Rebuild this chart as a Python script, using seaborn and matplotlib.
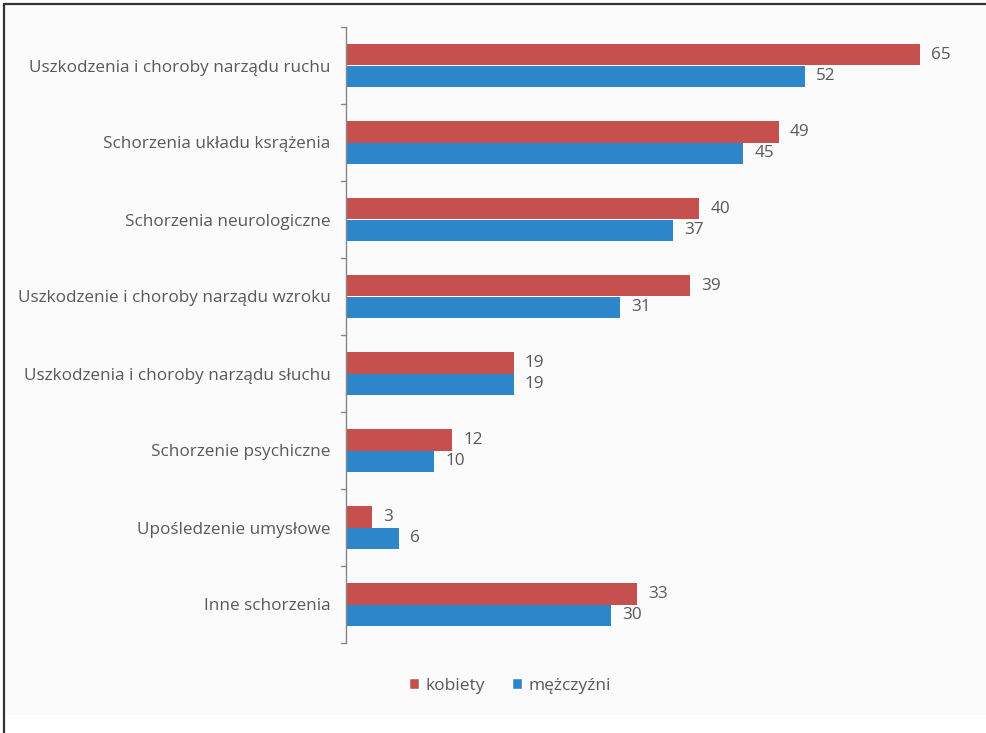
import matplotlib
matplotlib.use("Agg")
import matplotlib.pyplot as plt
import seaborn as sns
import pandas as pd
from matplotlib.lines import Line2D
from matplotlib.patches import Rectangle

categories = [
    "Uszkodzenia i choroby narządu ruchu",
    "Schorzenia układu ksrążenia",
    "Schorzenia neurologiczne",
    "Uszkodzenie i choroby narządu wzroku",
    "Uszkodzenia i choroby narządu słuchu",
    "Schorzenie psychiczne",
    "Upośledzenie umysłowe",
    "Inne schorzenia",
]
kobiety = [65, 49, 40, 39, 19, 12, 3, 33]
mezczyzni = [52, 45, 37, 31, 19, 10, 6, 30]
series_names = ["kobiety", "mężczyźni"]
colors = ["#C6504E", "#2C86C9"]

df = pd.DataFrame({
    "kat": categories * 2,
    "val": kobiety + mezczyzni,
    "ser": [series_names[0]] * len(categories) + [series_names[1]] * len(categories),
})

sns.set_style("white")
plt.rcParams["font.family"] = ["Open Sans", "DejaVu Sans"]

fig = plt.figure(figsize=(9.86, 7.33), dpi=100)
fig.patch.set_facecolor("white")
fig.add_artist(Rectangle((4 / 986, 1 - 715 / 733), 1, (715 - 4) / 733,
                         transform=fig.transFigure, facecolor="#FBFBFB",
                         edgecolor="none", zorder=0))
fig.add_artist(Line2D([4 / 986, 4 / 986], [0, 1 - 4 / 733], transform=fig.transFigure,
                      color="#333333", lw=1.6))
fig.add_artist(Line2D([4 / 986, 1], [1 - 4 / 733, 1 - 4 / 733], transform=fig.transFigure,
                      color="#333333", lw=1.6))

ax = fig.add_axes([346 / 986, 1 - 643 / 733, (964 - 346) / 986, (643 - 27) / 733])
ax.set_facecolor("none")

sns.barplot(data=df, y="kat", x="val", hue="ser", palette=colors, orient="h",
            width=0.57, dodge=True, ax=ax, legend=False, saturation=1,
            linewidth=0, edgecolor="none")

for cont in ax.containers:
    ax.bar_label(cont, padding=8, fontsize=12.3, color="#595959")

ax.set_xlim(0, 70)
ax.set_ylim(len(categories) - 0.5, -0.5)
ax.set_xlabel("")
ax.set_ylabel("")
ax.set_xticks([])
ax.set_yticks(range(len(categories)))
ax.set_yticklabels(categories, fontsize=12.3, color="#595959")
ax.tick_params(axis="y", length=0, pad=11)
for b in [i - 0.5 for i in range(len(categories) + 1)]:
    ax.plot([-0.6, 0], [b, b], color="#868686", lw=1, clip_on=False)

for s in ["top", "right", "bottom"]:
    ax.spines[s].set_visible(False)
ax.spines["left"].set_color("#868686")
ax.spines["left"].set_linewidth(1)

handles = [Rectangle((0, 0), 1, 1, facecolor=c) for c in colors]
fig.legend(handles, series_names, loc="center", bbox_to_anchor=(510 / 986, 1 - 686 / 733),
           ncol=2, frameon=False, fontsize=12.5, handlelength=0.6, handleheight=0.6,
           handletextpad=0.4, columnspacing=1.5, labelcolor="#595959")

fig.savefig("out.png", dpi=100)
